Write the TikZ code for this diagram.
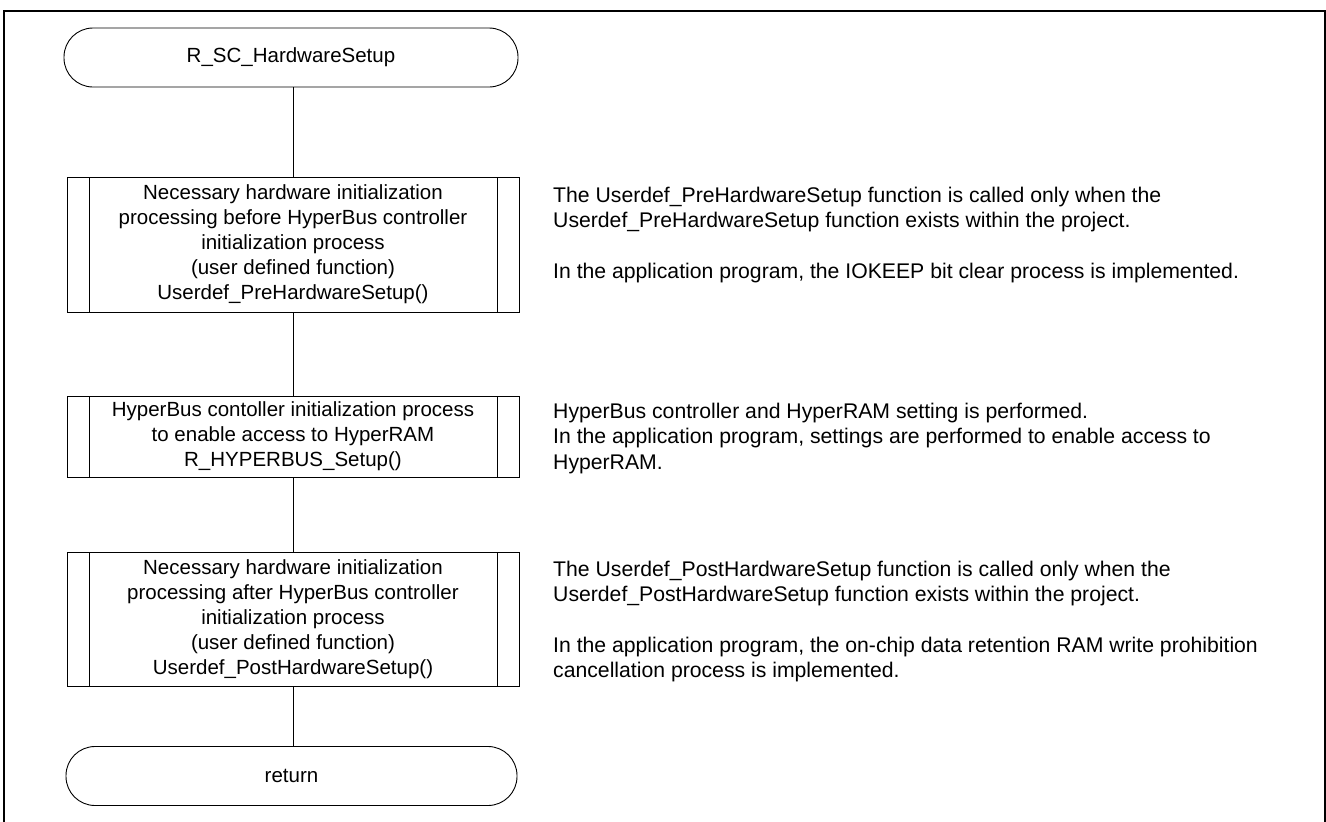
\documentclass[tikz,border=0pt]{standalone}
\usepackage{fontspec}
\setmainfont{Liberation Sans}
\usetikzlibrary{positioning}

\begin{document}
\begin{tikzpicture}[x=1pt, y=-1pt,
  every node/.style={font=\fontsize{20.5}{25}\selectfont},
  terminal/.style={draw, line width=0.9pt, rounded corners=29pt, minimum width=454pt, minimum height=59pt, inner sep=0pt},
  procbox/.style={draw, line width=0.9pt, align=center, minimum width=452pt, inner sep=0pt,
    path picture={
      \draw[line width=0.9pt] ([xshift=22pt]path picture bounding box.north west) -- ([xshift=22pt]path picture bounding box.south west);
      \draw[line width=0.9pt] ([xshift=-22pt]path picture bounding box.north east) -- ([xshift=-22pt]path picture bounding box.south east);
    }},
  note/.style={anchor=north west, align=left, inner sep=0pt, font=\fontsize{21.2}{25.3}\selectfont},
  flow/.style={line width=0.9pt}]
  \useasboundingbox (0,0) rectangle (1326,822);
  % outer frame
  \draw[line width=2pt] (4,823) -- (4,11) -- (1325,11) -- (1325,823);

  % Flow chart
  \node[terminal] (start) at (291,57.5) {R\_SC\_HardwareSetup};

  \node[procbox, minimum height=135pt] (pre) at (293,244.5) {Necessary hardware initialization\\processing before HyperBus controller\\initialization process\\(user defined function)\\Userdef\_PreHardwareSetup()};
  \node[procbox, minimum height=81pt] (hyper) at (293,436.5) {HyperBus contoller initialization process\\to enable access to HyperRAM\\R\_HYPERBUS\_Setup()};
  \node[procbox, minimum height=134pt] (post) at (293,619) {Necessary hardware initialization\\processing after HyperBus controller\\initialization process\\(user defined function)\\Userdef\_PostHardwareSetup()};

  \node[terminal, minimum width=451pt] (ret) at (291.5,776) {return};

  % notes
  \node[note] (notepre) at (553,187) {The Userdef\_PreHardwareSetup function is called only when the\\Userdef\_PreHardwareSetup function exists within the project.\\[25.3pt]In the application program, the IOKEEP bit clear process is implemented.};
  \node[note] (notehyper) at (553,403) {HyperBus controller and HyperRAM setting is performed.\\In the application program, settings are performed to enable access to\\HyperRAM.};
  \node[note] (notepost) at (553,561) {The Userdef\_PostHardwareSetup function is called only when the\\Userdef\_PostHardwareSetup function exists within the project.\\[25.3pt]In the application program, the on-chip data retention RAM write prohibition\\cancellation process is implemented.};

  \draw[flow] (start.south -| pre.north) -- (pre);
  \draw[flow] (pre) -- (hyper);
  \draw[flow] (hyper) -- (post);
  \draw[flow] (post) -- (post.south |- ret.north);
\end{tikzpicture}
\end{document}
